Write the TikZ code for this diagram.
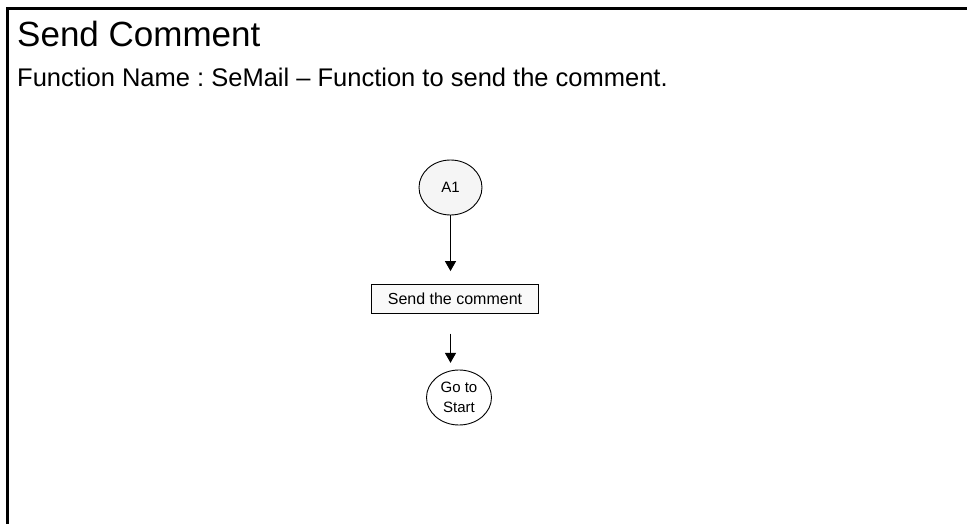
\documentclass[tikz,border=0pt]{standalone}
\usepackage{fontspec}
\setmainfont{Liberation Sans}
\usetikzlibrary{shapes.geometric,arrows.meta}
\frenchspacing
\begin{document}
\begin{tikzpicture}[x=1pt,y=-1pt,
    frameline/.style={line width=2.5pt},
    heading/.style={anchor=base west, inner sep=0pt},
    connector/.style={draw, ellipse, line width=0.9pt, inner sep=0pt,
        font=\fontsize{15}{20}\selectfont, align=center},
    procbox/.style={draw, line width=0.9pt, fill=gray!5, inner sep=0pt,
        minimum width=166.7pt, minimum height=28.3pt, font=\fontsize{16}{18}\selectfont},
    flow/.style={line width=1.2pt, -{Triangle[length=10pt,width=11pt]}}]
    \useasboundingbox (0,0) rectangle (967,524);
    \draw[frameline] (7.5,524) -- (7.5,8.5) -- (967,8.5);
    \node[heading, font=\fontsize{35}{35}\selectfont] (title) at (17,46.7) {Send Comment};
    \node[heading, font=\fontsize{25.5}{26}\selectfont] (fname) at (17,86.7)
        {Function Name : SeMail -- Function to send the comment.};
    \node[connector, fill=gray!8, minimum width=63pt, minimum height=55pt] (a1) at (450.5,187.5) {A1};
    \node[procbox] (send) at (455,299) {Send the comment};
    \node[connector, fill=white, minimum width=65pt, minimum height=55pt] (start) at (459,397.5) {Go to\\Start};
    \draw[flow, shorten >=13.3pt] (a1.south) -- (a1.south |- send.north);
    \draw[flow, shorten <=20pt, shorten >=6.7pt] (a1 |- send.south) -- (a1 |- start.north);
\end{tikzpicture}
\end{document}
